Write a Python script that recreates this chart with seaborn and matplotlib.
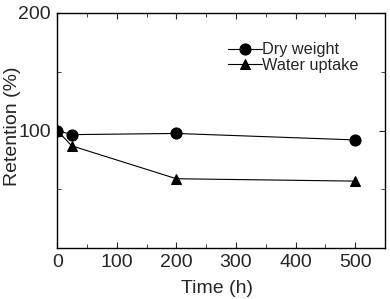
import matplotlib
matplotlib.use('Agg')
import matplotlib.pyplot as plt
import seaborn as sns
from matplotlib.ticker import MultipleLocator

time_h = [0, 24, 200, 500]
dry_weight = [100, 96.5, 97.5, 92]
water_uptake = [100, 87, 59, 57]

sns.set_style('ticks')
plt.rcParams['font.family'] = ['Liberation Sans', 'DejaVu Sans']

fig, ax = plt.subplots(figsize=(3.9, 2.99), dpi=100)

sns.lineplot(x=time_h, y=dry_weight, ax=ax, color='black', lw=0.8,
             marker='o', markersize=8, markeredgecolor='black', label='Dry weight')
sns.lineplot(x=time_h, y=water_uptake, ax=ax, color='black', lw=0.8,
             marker='^', markersize=7.5, markeredgecolor='black', label='Water uptake')

ax.set_xlim(0, 550)
ax.set_ylim(0, 200)
ax.xaxis.set_major_locator(MultipleLocator(100))
ax.xaxis.set_minor_locator(MultipleLocator(50))
ax.set_yticks([100, 200])
ax.yaxis.set_minor_locator(MultipleLocator(50))
ax.tick_params(which='both', direction='in', top=True, right=True, labelsize=14, pad=4.5)
ax.tick_params(which='major', length=4)
ax.tick_params(which='minor', length=3)
for s in ax.spines.values():
    s.set_linewidth(1)
    s.set_color('black')

ax.set_xlabel('Time (h)', fontsize=14)
ax.set_ylabel('Retention (%)', fontsize=14)
ax.xaxis.set_label_coords(0.487, -0.134)
ax.yaxis.set_label_coords(-0.112, 0.52)

ax.legend(loc='upper left', bbox_to_anchor=(0.505, 0.896), frameon=False,
          fontsize=11.7, handlelength=2.1, handletextpad=0, labelspacing=0.06,
          borderpad=0.3, borderaxespad=0)

fig.subplots_adjust(left=0.147, right=0.987, top=0.957, bottom=0.17)
fig.savefig('out.png', dpi=100)
